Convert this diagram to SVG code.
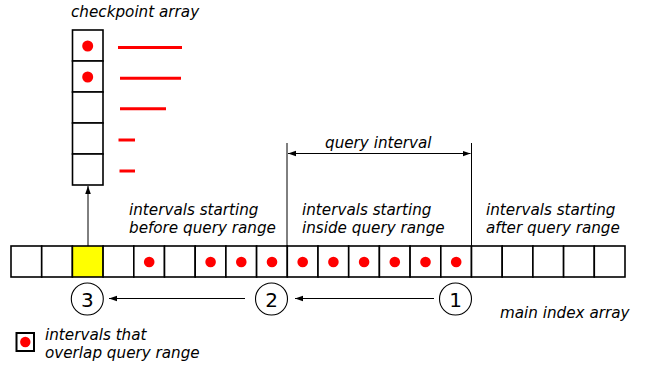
<svg xmlns="http://www.w3.org/2000/svg" width="647" height="366" viewBox="0 0 647 366">
  <style>
    .cell { fill: #fff; stroke: #000; stroke-width: 1.6; }
    .hit { fill: #ffff00; }
    .dot { fill: #ff0000; }
    .seg { stroke: #ff0000; stroke-width: 3; }
    .lbl { font-family: "DejaVu Sans", sans-serif; font-style: italic; font-size: 15.2px; fill: #000; }
    .num { font-family: "DejaVu Sans", sans-serif; font-size: 20px; fill: #000; text-anchor: middle; }
    .ring { fill: #fff; stroke: #000; stroke-width: 1.1; }
    .wire { stroke: #000; stroke-width: 1; fill: none; }
  </style>
  <defs>
    <marker id="head" viewBox="0 0 10 10" refX="10" refY="5" markerWidth="8" markerHeight="8" markerUnits="userSpaceOnUse" orient="auto-start-reverse">
      <path d="M0,1.5 L10,5 L0,8.5 z" fill="#000"/>
    </marker>
  </defs>
  <rect width="647" height="366" fill="#fff"/>

  <!-- checkpoint array -->
  <g id="checkpoint-array">
    <text class="lbl" x="71" y="17">checkpoint array</text>
    <rect class="cell" x="72.5" y="30" width="30.5" height="31"/>
    <rect class="cell" x="72.5" y="61" width="30.5" height="31"/>
    <rect class="cell" x="72.5" y="92" width="30.5" height="31"/>
    <rect class="cell" x="72.5" y="123" width="30.5" height="31"/>
    <rect class="cell" x="72.5" y="154" width="30.5" height="31"/>
    <circle class="dot" cx="87.7" cy="46" r="5.5"/>
    <circle class="dot" cx="87.7" cy="77" r="5.5"/>
    <line class="seg" x1="118" y1="47.5" x2="182" y2="47.5"/>
    <line class="seg" x1="120" y1="78.3" x2="181" y2="78.3"/>
    <line class="seg" x1="120" y1="108.7" x2="166" y2="108.7"/>
    <line class="seg" x1="118.5" y1="140" x2="135" y2="140"/>
    <line class="seg" x1="119.5" y1="171" x2="135" y2="171"/>
  </g>

  <!-- main index array: 20 cells -->
  <g id="main-array">
    <rect class="cell" x="11" y="246" width="30.7" height="31"/>
    <rect class="cell" x="41.7" y="246" width="30.7" height="31"/>
    <rect class="cell hit" x="72.4" y="246" width="30.7" height="31"/>
    <rect class="cell" x="103.1" y="246" width="30.7" height="31"/>
    <rect class="cell" x="133.8" y="246" width="30.7" height="31"/>
    <rect class="cell" x="164.5" y="246" width="30.7" height="31"/>
    <rect class="cell" x="195.2" y="246" width="30.7" height="31"/>
    <rect class="cell" x="225.9" y="246" width="30.7" height="31"/>
    <rect class="cell" x="256.6" y="246" width="30.7" height="31"/>
    <rect class="cell" x="287.3" y="246" width="30.7" height="31"/>
    <rect class="cell" x="318" y="246" width="30.7" height="31"/>
    <rect class="cell" x="348.7" y="246" width="30.7" height="31"/>
    <rect class="cell" x="379.4" y="246" width="30.7" height="31"/>
    <rect class="cell" x="410.1" y="246" width="30.7" height="31"/>
    <rect class="cell" x="440.8" y="246" width="30.7" height="31"/>
    <rect class="cell" x="471.5" y="246" width="30.7" height="31"/>
    <rect class="cell" x="502.2" y="246" width="30.7" height="31"/>
    <rect class="cell" x="532.9" y="246" width="30.7" height="31"/>
    <rect class="cell" x="563.6" y="246" width="30.7" height="31"/>
    <rect class="cell" x="594.3" y="246" width="30.7" height="31"/>
    <circle class="dot" cx="149.2" cy="262" r="5.3"/>
    <circle class="dot" cx="210.6" cy="262" r="5.3"/>
    <circle class="dot" cx="241.3" cy="262" r="5.3"/>
    <circle class="dot" cx="272" cy="262" r="5.3"/>
    <circle class="dot" cx="302.7" cy="262" r="5.3"/>
    <circle class="dot" cx="333.4" cy="262" r="5.3"/>
    <circle class="dot" cx="364.1" cy="262" r="5.3"/>
    <circle class="dot" cx="394.8" cy="262" r="5.3"/>
    <circle class="dot" cx="425.5" cy="262" r="5.3"/>
    <circle class="dot" cx="456.2" cy="262" r="5.3"/>
    <text class="lbl" x="500" y="318">main index array</text>
  </g>

  <!-- region captions -->
  <g id="before-label">
    <text class="lbl" x="129" y="215">intervals starting</text>
    <text class="lbl" x="129" y="233">before query range</text>
  </g>
  <g id="inside-label">
    <text class="lbl" x="302" y="215">intervals starting</text>
    <text class="lbl" x="302" y="233">inside query range</text>
  </g>
  <g id="after-label">
    <text class="lbl" x="486" y="215">intervals starting</text>
    <text class="lbl" x="486" y="233">after query range</text>
  </g>

  <!-- query interval dimension -->
  <g id="query-interval">
    <text class="lbl" x="325" y="148">query interval</text>
  </g>

  <!-- search steps -->
  <g id="step-1">
    <circle class="ring" cx="455.5" cy="299" r="16"/>
    <text class="num" x="455.5" y="306.5">1</text>
  </g>
  <g id="step-2">
    <circle class="ring" cx="271.5" cy="299" r="16"/>
    <text class="num" x="271.5" y="306.5">2</text>
  </g>
  <g id="step-3">
    <circle class="ring" cx="87.3" cy="299" r="16"/>
    <text class="num" x="87.3" y="306.5">3</text>
  </g>

  <!-- legend -->
  <g id="legend">
    <rect x="16.5" y="333" width="17.5" height="18" fill="#fff" stroke="#000" stroke-width="2"/>
    <circle class="dot" cx="25.3" cy="342" r="5.2"/>
    <text class="lbl" x="45" y="339.5">intervals that</text>
    <text class="lbl" x="45" y="357.5">overlap query range</text>
  </g>

  <!-- connectors -->
  <g id="connectors">
    <line class="wire" x1="287" y1="143" x2="287" y2="246"/>
    <line class="wire" x1="471.5" y1="143" x2="471.5" y2="246"/>
    <line class="wire" x1="288" y1="153.5" x2="470.5" y2="153.5" marker-start="url(#head)" marker-end="url(#head)"/>
    <line class="wire" x1="88" y1="246" x2="88" y2="186" marker-end="url(#head)"/>
    <line class="wire" x1="434" y1="298.5" x2="295" y2="298.5" marker-end="url(#head)"/>
    <line class="wire" x1="245" y1="298.5" x2="109" y2="298.5" marker-end="url(#head)"/>
  </g>
</svg>
